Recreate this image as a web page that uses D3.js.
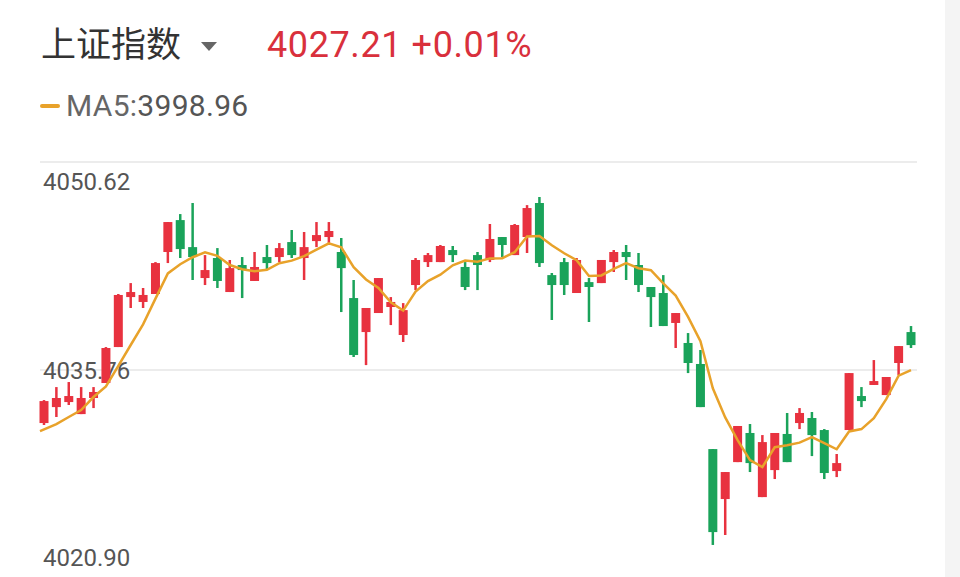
<!DOCTYPE html>
<html><head><meta charset="utf-8">
<script src="https://cdn.jsdelivr.net/npm/d3@7"></script>
<style>body{margin:0;background:#fff}svg{display:block}</style>
</head><body><svg id="c" width="960" height="577"></svg>
<script>
const opens =[4031.97,4033.11,4033.47,4032.61,4033.76,4034.83,4037.40,4040.97,4040.62,4041.19,4044.19,4046.47,4044.54,4042.33,4043.76,4041.33,4043.26,4042.12,4043.83,4043.83,4044.90,4043.76,4044.97,4045.26,4044.19,4040.90,4038.47,4039.83,4040.26,4038.26,4041.83,4043.47,4043.47,4044.33,4043.12,4043.97,4043.62,4045.26,4043.97,4045.26,4047.69,4042.54,4043.47,4041.26,4042.04,4041.97,4043.47,4044.19,4043.26,4041.69,4041.26,4039.12,4037.69,4036.19,4030.11,4026.54,4029.18,4031.26,4026.68,4028.61,4031.19,4031.97,4032.33,4031.47,4028.54,4031.47,4033.90,4034.69,4033.97,4036.26,4038.47];
const closes=[4033.54,4033.76,4033.90,4033.76,4034.19,4037.33,4041.12,4041.33,4041.12,4043.40,4046.33,4044.40,4043.83,4042.90,4042.12,4043.04,4042.90,4043.12,4043.40,4044.47,4043.97,4044.54,4045.40,4045.69,4043.04,4036.83,4040.19,4042.33,4040.62,4040.04,4043.62,4043.97,4044.62,4043.97,4041.69,4043.26,4045.12,4044.69,4046.12,4047.33,4043.40,4041.83,4041.83,4043.62,4041.69,4043.62,4044.19,4043.83,4041.83,4040.97,4038.90,4039.83,4036.26,4033.11,4024.18,4028.47,4031.76,4029.11,4030.61,4031.26,4029.18,4032.69,4031.11,4028.40,4029.11,4035.54,4033.54,4034.97,4035.26,4037.47,4037.54];
const highs =[4033.61,4034.54,4034.90,4034.54,4034.54,4037.40,4041.19,4041.97,4041.62,4043.47,4046.33,4046.90,4047.69,4043.97,4044.47,4043.62,4043.83,4044.19,4044.69,4044.83,4045.76,4045.62,4046.33,4046.33,4045.19,4042.19,4040.19,4042.33,4040.97,4040.54,4043.76,4044.12,4044.69,4044.62,4043.47,4044.19,4046.19,4045.26,4046.19,4047.54,4048.12,4042.69,4043.76,4043.76,4042.33,4043.62,4044.33,4044.69,4044.12,4041.69,4042.54,4039.83,4038.40,4037.19,4030.11,4028.47,4031.76,4031.90,4031.11,4031.26,4032.69,4033.04,4032.76,4031.54,4029.76,4035.54,4034.54,4036.47,4035.26,4037.47,4038.90];
const lows  =[4031.83,4032.40,4033.26,4032.61,4033.04,4034.83,4037.40,4040.19,4040.19,4041.19,4043.40,4043.76,4042.19,4041.83,4041.62,4041.33,4040.90,4042.12,4042.90,4043.47,4043.76,4042.19,4044.54,4044.69,4039.90,4036.69,4036.11,4039.83,4038.97,4037.76,4041.47,4043.12,4043.47,4043.47,4041.47,4041.47,4043.47,4043.83,4043.97,4044.12,4043.12,4039.33,4041.12,4041.26,4039.19,4041.97,4042.76,4042.19,4041.33,4038.83,4038.90,4037.33,4035.54,4033.11,4023.26,4023.97,4029.18,4028.47,4026.68,4027.97,4029.18,4031.54,4029.61,4027.97,4028.11,4031.47,4033.11,4034.69,4033.97,4035.40,4037.33];
const maStart=[4031.4,4031.9,4032.4,4032.9];
const yTicks=[4050.62,4035.76,4020.90];
const title="上证指数", lastPrice="4027.21", change="+0.01%", maLabel="MA5:", maValue="3998.96";

const svg=d3.select("#c");
svg.append("rect").attr("x",945).attr("y",0).attr("width",15).attr("height",577).attr("fill","#f4f4f4");
const y=d3.scaleLinear().domain([4020.90,4050.62]).range([578,162]);
const x=d3.scaleLinear().domain([0,70]).range([44,911]);
const idx=d3.range(closes.length);
svg.selectAll(".g").data(yTicks.slice(0,2)).join("line").attr("x1",40).attr("x2",917)
 .attr("y1",d=>y(d)).attr("y2",d=>y(d)).attr("stroke","#ececec").attr("stroke-width",2);
const f="'Roboto','Noto Sans',sans-serif";
svg.selectAll(".yt").data(yTicks).join("text").attr("x",43).attr("y",(d,i)=>[190,379,566][i])
 .attr("font-family",f).attr("font-size",24).attr("fill","#555").text(d=>d.toFixed(2));
const col=i=>closes[i]>=opens[i]?"#e8323f":"#1aa35a";
const g=svg.append("g");
g.selectAll("line").data(idx).join("line").attr("x1",i=>x(i)).attr("x2",i=>x(i))
 .attr("y1",i=>y(highs[i])).attr("y2",i=>y(lows[i])).attr("stroke",col).attr("stroke-width",2.5);
g.selectAll("rect").data(idx).join("rect").attr("x",i=>x(i)-4.5).attr("width",9)
 .attr("y",i=>y(Math.max(opens[i],closes[i])))
 .attr("height",i=>Math.max(2.5,Math.abs(y(opens[i])-y(closes[i])))).attr("fill",col);
const ma=idx.map(i=>i<4?maStart[i]:d3.mean(closes.slice(i-4,i+1)));
svg.append("path").datum(idx).attr("fill","none").attr("stroke","#e8a22a").attr("stroke-width",2.5)
 .attr("d",d3.line().x(i=>i===0?40:x(i)).y(i=>y(ma[i])));
svg.append("text").attr("x",41).attr("y",57).attr("font-family","'Noto Sans CJK SC',sans-serif").attr("font-size",35).attr("fill","#333").text(title);
svg.append("path").attr("d","M201,42 L217,42 L209,51 Z").attr("fill","#666");
svg.append("text").attr("x",267).attr("y",57).attr("font-family",f).attr("font-size",36).attr("letter-spacing",0.6).attr("fill","#d9303c").text(lastPrice+" "+change);
svg.append("line").attr("x1",42).attr("x2",58).attr("y1",106).attr("y2",106).attr("stroke","#e8a22a").attr("stroke-width",4).attr("stroke-linecap","round");
const t=svg.append("text").attr("x",66).attr("y",116).attr("font-family",f).attr("font-size",30).attr("letter-spacing",0.3).attr("fill","#666");
t.append("tspan").text(maLabel);t.append("tspan").attr("fill","#555").text(maValue);
</script></body></html>
